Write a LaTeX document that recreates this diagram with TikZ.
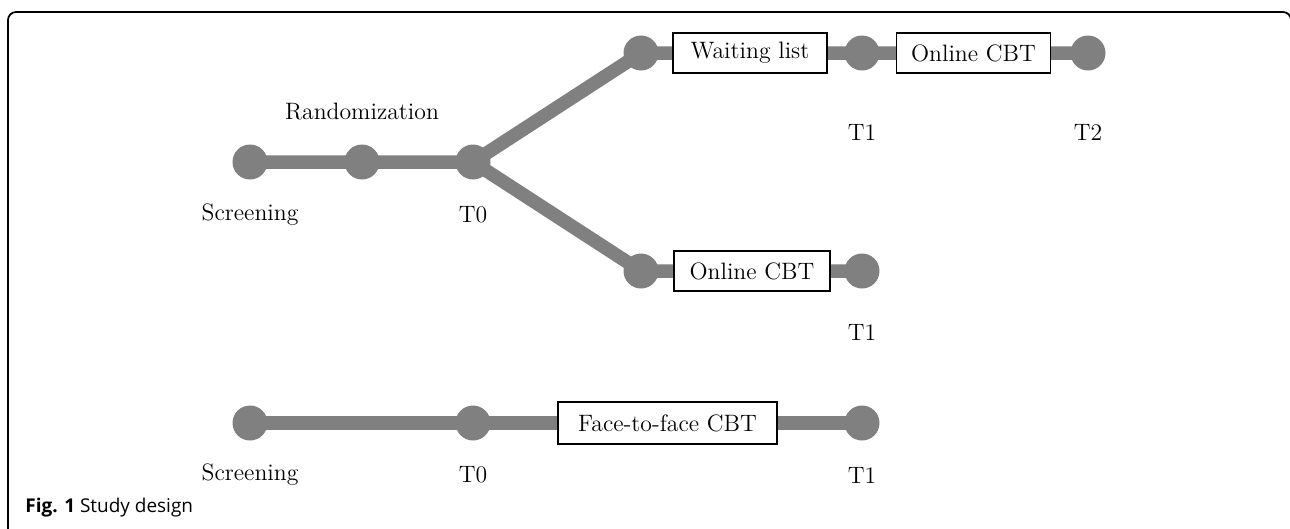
\documentclass[tikz,border=0pt]{standalone}
\usepackage{fontspec}
\usetikzlibrary{backgrounds}
\newfontfamily\capfont{Open Sans}
\definecolor{linegray}{RGB}{128,128,128}
\tikzset{
  dot/.style={circle,fill=linegray,inner sep=0pt,minimum size=0.7cm},
  stage/.style={draw=black,line width=1pt,fill=white,inner sep=0pt,minimum height=0.8cm,minimum width=3.08cm,font=\fontsize{13.5}{16}\selectfont},
  lbl/.style={inner sep=0pt,font=\fontsize{13.5}{16}\selectfont},
  track/.style={draw=linegray,line width=0.27cm}
}
\begin{document}
\begin{tikzpicture}[x=0.02cm,y=-0.02cm]
   \useasboundingbox (0,0) rectangle (1290,528);
   \draw[line width=1pt,rounded corners=0.16cm] (8,540)--(8,12)--(1291,12)--(1291,540);
   % top group
   \node[dot] (scr) at (250,162) {};
   \node[dot] (rnd) at (362,162) {};
   \node[dot] (tz) at (473,162) {};
   \node[dot] (up1) at (641,53) {};
   \node[dot] (up2) at (862,53) {};
   \node[dot] (up3) at (1088,53) {};
   \node[dot] (lo1) at (641,271) {};
   \node[dot] (lo2) at (862,271) {};
   \node[stage] (wait) at (750,53) {Waiting list};
   \node[stage] (onlup) at (973.5,53) {Online CBT};
   \node[stage,minimum width=3.12cm] (onllo) at (752,271) {Online CBT};
   \node[lbl] (rndlbl) at (362,112) {Randomization};
   \node[lbl] (scrlbl) at (250,215) {Screening};
   \node[lbl] (tzlbl) at (473,215) {T0};
   \node[lbl] (up2lbl) at (862,132) {T1};
   \node[lbl] (up3lbl) at (1088,132) {T2};
   \node[lbl] (lo2lbl) at (862,332) {T1};
   % bottom group
   \node[dot] (bscr) at (250,423) {};
   \node[dot] (btz) at (473,423) {};
   \node[dot] (bend) at (862,423) {};
   \node[stage,minimum width=4.38cm,minimum height=0.84cm] (ftf) at (667.5,423) {Face-to-face CBT};
   \node[lbl] (bscrlbl) at (250,475) {Screening};
   \node[lbl] (btzlbl) at (473,475) {T0};
   \node[lbl] (bendlbl) at (862,475) {T1};
   \node[anchor=base west,inner sep=0pt,font=\capfont\fontsize{10.8}{13}\selectfont] (cap) at (25,512) {\textbf{Fig. 1} Study design};
   \begin{pgfonlayer}{background}
     \draw[track] (scr.center)--(rnd.center)--(tz.center)--(up1.center)--(wait.center)--(up2.center)--(onlup.center)--(up3.center);
     \draw[track] (tz.center)--(lo1.center)--(onllo.center)--(lo2.center);
     \draw[track] (bscr.center)--(btz.center)--(ftf.center)--(bend.center);
   \end{pgfonlayer}
\end{tikzpicture}
\end{document}
